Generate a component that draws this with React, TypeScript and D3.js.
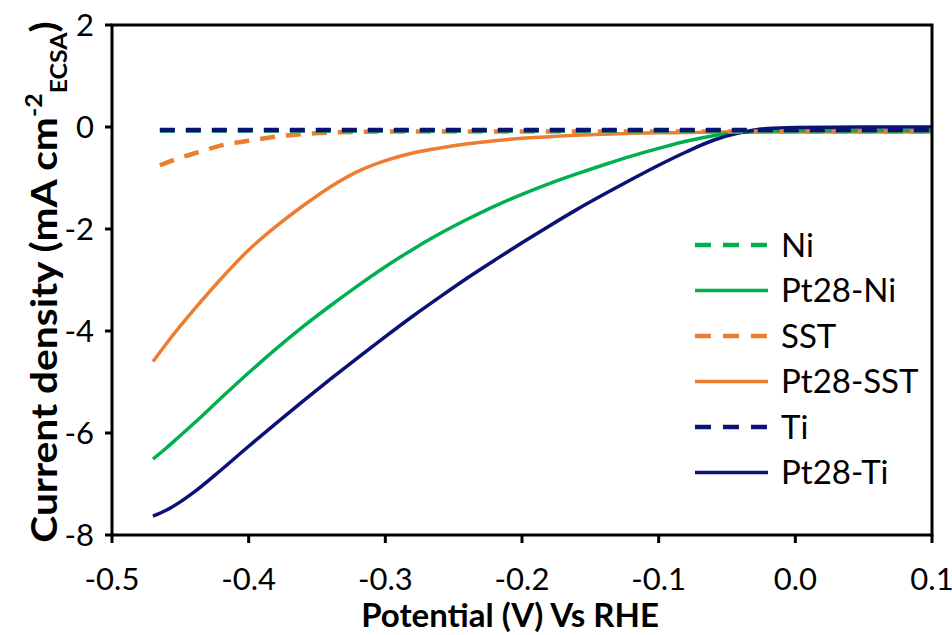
import React from "react";
import * as d3 from "d3";

const potential = [-0.47, -0.46, -0.45, -0.44, -0.42, -0.40, -0.38, -0.36, -0.34, -0.32, -0.30, -0.28, -0.26, -0.24, -0.22, -0.20, -0.18, -0.16, -0.14, -0.12, -0.10, -0.08, -0.06, -0.04, -0.02, 0.00, 0.05, 0.10];
const pt28Ti = [-7.63, -7.51, -7.35, -7.16, -6.72, -6.26, -5.81, -5.37, -4.94, -4.52, -4.11, -3.71, -3.33, -2.96, -2.61, -2.27, -1.94, -1.62, -1.32, -1.03, -0.75, -0.49, -0.26, -0.11, -0.03, -0.01, 0.00, 0.00];
const pt28Ni = [-6.51, -6.29, -6.05, -5.81, -5.31, -4.82, -4.35, -3.91, -3.50, -3.11, -2.74, -2.40, -2.09, -1.81, -1.55, -1.32, -1.11, -0.92, -0.74, -0.57, -0.42, -0.28, -0.17, -0.11, -0.08, -0.07, -0.07, -0.07];
const pt28SST = [-4.60, -4.24, -3.90, -3.58, -2.97, -2.41, -1.95, -1.54, -1.17, -0.87, -0.66, -0.51, -0.41, -0.33, -0.27, -0.22, -0.19, -0.16, -0.14, -0.125, -0.115, -0.11, -0.10, -0.10, -0.10, -0.10, -0.10, -0.10];

const potentialBare = [-0.465, -0.45, -0.435, -0.42, -0.40, -0.38, -0.36, -0.34, -0.30, -0.25, -0.20, -0.10, 0.00, 0.10];
const bareNi = [-0.07, -0.07, -0.07, -0.07, -0.07, -0.07, -0.07, -0.07, -0.07, -0.07, -0.07, -0.07, -0.07, -0.07];
const bareSST = [-0.75, -0.60, -0.48, -0.36, -0.27, -0.19, -0.14, -0.11, -0.09, -0.09, -0.09, -0.09, -0.09, -0.09];
const bareTi = [-0.06, -0.06, -0.06, -0.06, -0.06, -0.06, -0.06, -0.06, -0.06, -0.06, -0.06, -0.06, -0.06, -0.06];

const xTicks = [-0.5, -0.4, -0.3, -0.2, -0.1, 0.0, 0.1];
const yTicks = [2, 0, -2, -4, -6, -8];

const GREEN = "#00B050";
const ORANGE = "#ED7D31";
const NAVY = "#0C1273";

type Series = { name: string; xs: number[]; ys: number[]; color: string; dashed: boolean };
const series: Series[] = [
  { name: "Ni", xs: potentialBare, ys: bareNi, color: GREEN, dashed: true },
  { name: "Pt28-Ni", xs: potential, ys: pt28Ni, color: GREEN, dashed: false },
  { name: "SST", xs: potentialBare, ys: bareSST, color: ORANGE, dashed: true },
  { name: "Pt28-SST", xs: potential, ys: pt28SST, color: ORANGE, dashed: false },
  { name: "Ti", xs: potentialBare, ys: bareTi, color: NAVY, dashed: true },
  { name: "Pt28-Ti", xs: potential, ys: pt28Ti, color: NAVY, dashed: false },
];

const drawOrder = [3, 1, 5, 2, 0, 4];

export default function App() {
  const W = 952, H = 635;
  const left = 112, right = 932, top = 25, bottom = 535;
  const x = d3.scaleLinear().domain([-0.5, 0.1]).range([left, right]);
  const y = d3.scaleLinear().domain([-8, 2]).range([bottom, top]);
  const line = d3
    .line<[number, number]>()
    .x((d) => x(d[0]))
    .y((d) => y(d[1]))
    .curve(d3.curveMonotoneX);

  const font = "Lato, 'Open Sans', sans-serif";
  const legendX0 = 695, legendX1 = 768, legendTextX = 781;
  const legendY = (i: number) => 245 + i * 45.5;

  return (
    <svg width={W} height={H} style={{ position: "absolute", left: 0, top: 0, background: "#fff" }} fontFamily={font}>
      <rect x={0} y={0} width={W} height={H} fill="#fff" />
      {drawOrder.map((i) => {
        const s = series[i];
        const pts = s.xs.map((v, k) => [v, s.ys[k]] as [number, number]);
        return (
          <path
            key={s.name}
            d={line(pts) || ""}
            fill="none"
            stroke={s.color}
            strokeWidth={s.dashed ? 4.5 : 3.5}
            strokeDasharray={s.dashed ? "15,11" : undefined}
            strokeLinecap="butt"
          />
        );
      })}
      <rect x={left} y={top} width={right - left} height={bottom - top} fill="none" stroke="#000" strokeWidth={3} />
      {yTicks.map((t) => (
        <g key={"y" + t}>
          <line x1={left - 7} x2={left} y1={y(t)} y2={y(t)} stroke="#000" strokeWidth={3} />
          <text x={left - 18} y={y(t)} dy="0.36em" textAnchor="end" fontSize={31} fill="#000">
            {t}
          </text>
        </g>
      ))}
      {xTicks.map((t) => (
        <g key={"x" + t}>
          <line x1={x(t)} x2={x(t)} y1={bottom} y2={bottom + 8} stroke="#000" strokeWidth={3} />
          <text x={x(t)} y={590} textAnchor="middle" fontSize={31} fill="#000">
            {t.toFixed(1)}
          </text>
        </g>
      ))}
      <text x={510} y={627} textAnchor="middle" fontSize={33} fontWeight="bold" fill="#000">
        Potential (V) Vs RHE
      </text>
      <text
        transform={`translate(57, 282) rotate(-90) scale(1.13, 1)`}
        textAnchor="middle"
        fontSize={36}
        fontWeight="bold"
        fill="#000"
      >
        Current density (mA cm
        <tspan fontSize={22} dy={-15}>-2</tspan>
        <tspan fontSize={22} dy={25}>ECSA</tspan>
        <tspan dy={-10}>)</tspan>
      </text>
      {series.map((s, i) => (
        <g key={"leg" + s.name}>
          <line
            x1={legendX0}
            x2={legendX1}
            y1={legendY(i)}
            y2={legendY(i)}
            stroke={s.color}
            strokeWidth={s.dashed ? 4.5 : 3.5}
            strokeDasharray={s.dashed ? "16,12" : undefined}
          />
          <text x={legendTextX} y={legendY(i)} dy="0.36em" fontSize={33} fill="#000">
            {s.name}
          </text>
        </g>
      ))}
    </svg>
  );
}
